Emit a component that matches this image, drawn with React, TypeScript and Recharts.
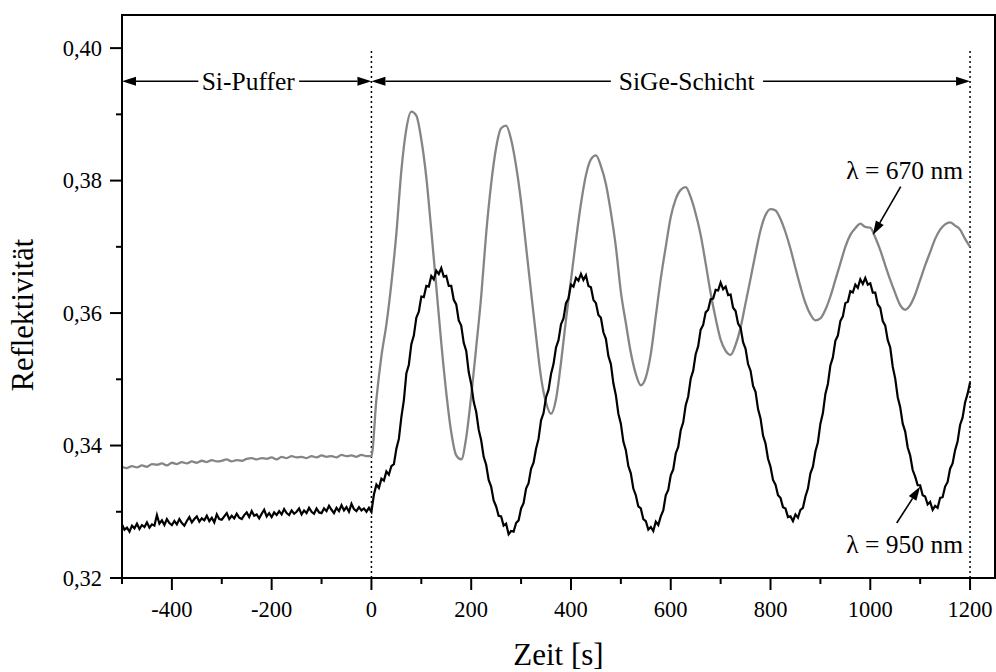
import React from "react";
import {
  LineChart,
  Line,
  XAxis,
  YAxis,
  ReferenceArea,
  ReferenceLine,
  ReferenceDot,
} from "recharts";

// sampling: buffer phase starts at -500 s, layer phase at 0 s
const bufferStart = -500;
const layerStart = 0;
const grayStep = 10;
const blackStep = 5;

// lambda = 670 nm (grey), every 10 s
const grayBuffer = [
  0.3368, 0.3366, 0.3369, 0.3367, 0.337, 0.3368, 0.3372, 0.3371, 0.3373, 0.337,
  0.3374, 0.3372, 0.3375, 0.3373, 0.3376, 0.3374, 0.3377, 0.3375, 0.3378, 0.3376,
  0.3377, 0.3379, 0.3376, 0.3378, 0.3377, 0.338, 0.3381, 0.3379, 0.3381, 0.338,
  0.3382, 0.3379, 0.3383, 0.3381, 0.3384, 0.3382, 0.3383, 0.3381, 0.3384, 0.3382,
  0.3385, 0.3383, 0.3384, 0.3382, 0.3386, 0.3384, 0.3385, 0.3383, 0.3386, 0.3384,
];
const grayLayer = [
  0.3384, 0.347, 0.3535, 0.3583, 0.3645, 0.372, 0.3815, 0.3878, 0.3904, 0.3898,
  0.3862, 0.3805, 0.3725, 0.364, 0.3555, 0.348, 0.342, 0.3385, 0.3379, 0.3412,
  0.3475, 0.3548, 0.3625, 0.372, 0.3795, 0.385, 0.3879, 0.3883, 0.3862, 0.3822,
  0.3768, 0.37, 0.3632, 0.3565, 0.3503, 0.3465, 0.3448, 0.347, 0.3525, 0.359,
  0.365, 0.371, 0.3765, 0.3808, 0.3832, 0.3838, 0.3822, 0.3795, 0.3752, 0.37,
  0.3632, 0.3585, 0.354, 0.3508, 0.3491, 0.3503, 0.3538, 0.3595, 0.3652, 0.37,
  0.3745, 0.3772, 0.3786, 0.379, 0.3775, 0.375, 0.3718, 0.3675, 0.363, 0.3592,
  0.356, 0.3543, 0.3537, 0.3552, 0.3578, 0.3615, 0.3652, 0.369, 0.3725, 0.3748,
  0.3757, 0.3755, 0.3742, 0.3722, 0.3697, 0.3668, 0.364, 0.3615, 0.3598, 0.3589,
  0.3592, 0.3605, 0.3625, 0.365, 0.3675, 0.37, 0.3718, 0.3728, 0.3735, 0.373,
  0.3729, 0.3714, 0.3695, 0.3672, 0.365, 0.363, 0.3612, 0.3605, 0.3612, 0.3628,
  0.365, 0.3672, 0.3692, 0.3712, 0.3726, 0.3734, 0.3737, 0.3732, 0.3726, 0.3712,
  0.37,
];

// lambda = 950 nm (black), every 5 s
const blackBuffer = [
  0.3281, 0.3273, 0.3276, 0.327, 0.3279, 0.3275, 0.3282, 0.3274, 0.328, 0.3277,
  0.3284, 0.3276, 0.3281, 0.3279, 0.3295, 0.3282, 0.3287, 0.328, 0.3289, 0.3283,
  0.328, 0.3286, 0.3281, 0.3289, 0.3283, 0.3279, 0.3286, 0.3292, 0.3284, 0.3289,
  0.3293, 0.3285, 0.329, 0.3287, 0.3294, 0.3286, 0.3291, 0.3284, 0.3296, 0.3289,
  0.3288, 0.3293, 0.3298, 0.3289, 0.3294, 0.329, 0.3297, 0.3291, 0.3289, 0.3295,
  0.3299, 0.3292, 0.3301, 0.3294, 0.3296, 0.329, 0.3297, 0.3303, 0.3293, 0.3298,
  0.3292, 0.3299, 0.3295, 0.3301, 0.3296, 0.3304, 0.3298, 0.3295, 0.3302, 0.3297,
  0.33, 0.3305, 0.3296, 0.3302, 0.3298, 0.3306, 0.33, 0.3297, 0.3305, 0.3299,
  0.3298, 0.3305, 0.3301, 0.3309, 0.3303, 0.3298, 0.3306, 0.3301, 0.331, 0.3302,
  0.3307, 0.33, 0.3312, 0.3304, 0.3301, 0.3307, 0.3302, 0.3305, 0.33, 0.3306,
];
const blackLayer = [
  0.33, 0.3326, 0.3341, 0.3336, 0.335, 0.3347, 0.3361, 0.3356, 0.3369, 0.3372,
  0.3395, 0.341, 0.3443, 0.3468, 0.3509, 0.3522, 0.3553, 0.3566, 0.3593, 0.3602,
  0.3625, 0.3624, 0.3641, 0.364, 0.3656, 0.3651, 0.3664, 0.3659, 0.3668, 0.3655,
  0.3656, 0.3641, 0.3641, 0.362, 0.3613, 0.3589, 0.3581, 0.3555, 0.3543, 0.3511,
  0.3493, 0.3466, 0.3451, 0.3424, 0.3408, 0.3383, 0.3371, 0.3348, 0.3338, 0.3317,
  0.3308, 0.3294, 0.3293, 0.3279, 0.3282, 0.3266, 0.3271, 0.327, 0.3283, 0.3287,
  0.3305, 0.3313, 0.3335, 0.3343, 0.3365, 0.3374, 0.3395, 0.341, 0.3438, 0.3449,
  0.3473, 0.3484, 0.3508, 0.3523, 0.3548, 0.3559, 0.3583, 0.3592, 0.3615, 0.3622,
  0.3643, 0.364, 0.3653, 0.3649, 0.3659, 0.365, 0.3657, 0.3641, 0.3639, 0.362,
  0.3615, 0.3597, 0.3593, 0.3571, 0.3561, 0.3535, 0.3523, 0.3494, 0.3476, 0.3448,
  0.3433, 0.3406, 0.3393, 0.3369, 0.3358, 0.3335, 0.3325, 0.3308, 0.3305, 0.3289,
  0.3286, 0.3273, 0.3277, 0.3271, 0.3285, 0.328, 0.3293, 0.3302, 0.3325, 0.3333,
  0.3355, 0.3364, 0.3388, 0.3398, 0.3423, 0.3435, 0.3461, 0.3474, 0.3501, 0.3513,
  0.3538, 0.355, 0.3575, 0.3582, 0.3601, 0.3605, 0.3621, 0.3622, 0.3635, 0.3634,
  0.3646, 0.3636, 0.364, 0.3627, 0.3628, 0.3608, 0.3603, 0.3584, 0.3578, 0.3556,
  0.3546, 0.3523, 0.3513, 0.349, 0.3481, 0.3455, 0.3441, 0.3415, 0.3403, 0.338,
  0.3368, 0.3348, 0.3341, 0.3325, 0.3321, 0.3307, 0.3305, 0.3292, 0.3293, 0.3286,
  0.3296, 0.3291, 0.3303, 0.3306, 0.3323, 0.3335, 0.3358, 0.3368, 0.3391, 0.3405,
  0.3433, 0.3449, 0.3478, 0.3493, 0.3521, 0.3533, 0.3558, 0.3566, 0.3588, 0.3595,
  0.3615, 0.3617, 0.3633, 0.3631, 0.3643, 0.3638, 0.3651, 0.3644, 0.3653, 0.3643,
  0.3645, 0.3631, 0.3631, 0.3613, 0.3608, 0.3588, 0.3581, 0.3559, 0.3548, 0.3519,
  0.3501, 0.3473, 0.3458, 0.3433, 0.3421, 0.3397, 0.3385, 0.3363, 0.3353, 0.334,
  0.334, 0.3325, 0.3323, 0.3311, 0.3315, 0.3303, 0.3309, 0.3306, 0.3321, 0.3322,
  0.3338, 0.3345, 0.3365, 0.3373, 0.3393, 0.3406, 0.3431, 0.3442, 0.3465, 0.3478,
  0.3495,
];

const xTicks = [
  -500, -400, -300, -200, -100, 0, 100, 200, 300, 400, 500, 600, 700, 800, 900,
  1000, 1100, 1200,
];
const yTicks = [0.32, 0.33, 0.34, 0.35, 0.36, 0.37, 0.38, 0.39, 0.4];

const toPoints = (start: number, step: number, vals: number[]) =>
  vals.map((r, i) => ({ t: start + i * step, r }));

const grayData = [
  ...toPoints(bufferStart, grayStep, grayBuffer),
  ...toPoints(layerStart, grayStep, grayLayer),
];
const blackData = [
  ...toPoints(bufferStart, blackStep, blackBuffer),
  ...toPoints(layerStart, blackStep, blackLayer),
];

const W = 996;
const H = 672;
const PLOT_LEFT = 122;
const PLOT_BOTTOM = 578;
const FONT = "'Liberation Serif', 'Times New Roman', serif";
const GREY = "#858585";
const txt = { fontFamily: FONT, fill: "#000" };

function YTick(props: any) {
  const { y, payload } = props;
  const major = Math.round(payload.value * 100) % 2 === 0;
  const len = major ? 12 : 6;
  return (
    <g>
      <line x1={PLOT_LEFT - len} x2={PLOT_LEFT} y1={y} y2={y} stroke="#000" strokeWidth={2} />
      {major && (
        <text x={PLOT_LEFT - 20} y={y} dy="0.35em" textAnchor="end" style={{ ...txt, fontSize: 22.5 }}>
          {payload.value.toFixed(2).replace(".", ",")}
        </text>
      )}
    </g>
  );
}

function XTick(props: any) {
  const { x, payload } = props;
  const major = payload.value % 200 === 0;
  const len = major ? 12 : 6;
  return (
    <g>
      <line x1={x} x2={x} y1={PLOT_BOTTOM} y2={PLOT_BOTTOM + len} stroke="#000" strokeWidth={2} />
      {major && (
        <text x={x} y={PLOT_BOTTOM + 31} dy="0.35em" textAnchor="middle" style={{ ...txt, fontSize: 22.5 }}>
          {payload.value}
        </text>
      )}
    </g>
  );
}

// straight arrow with a filled head at the second point
const arrow = (p: any) => {
  const { x1, y1, x2, y2 } = p;
  const L = 14;
  const w = 4.5;
  const dx = x2 - x1;
  const dy = y2 - y1;
  const len = Math.hypot(dx, dy) || 1;
  const ux = dx / len;
  const uy = dy / len;
  const bx = x2 - ux * L;
  const by = y2 - uy * L;
  return (
    <g>
      <line x1={x1} y1={y1} x2={bx} y2={by} stroke="#000" strokeWidth={1.6} />
      <polygon points={`${x2},${y2} ${bx - uy * w},${by + ux * w} ${bx + uy * w},${by - ux * w}`} fill="#000" />
    </g>
  );
};

const note = (text: string, anchor: "middle" | "end") => (p: any) => (
  <text x={p.viewBox.x} y={p.viewBox.y} dy="0.35em" textAnchor={anchor} style={{ ...txt, fontSize: 25.5 }}>
    {text}
  </text>
);

const arrowY = 0.395;

export default function App() {
  return (
    <div style={{ position: "absolute", left: 0, top: 0, width: W, height: H, background: "#fff", fontFamily: FONT }}>
      <LineChart width={W} height={H} margin={{ top: 15, right: 1, bottom: 0, left: 0 }}>
        <XAxis
          dataKey="t"
          type="number"
          domain={[-500, 1250]}
          ticks={xTicks}
          interval={0}
          allowDataOverflow
          height={94}
          axisLine={{ stroke: "#000", strokeWidth: 2 }}
          tickLine={false}
          tick={<XTick />}
          label={{
            content: (p: any) => (
              <text
                x={p.viewBox.x + p.viewBox.width / 2}
                y={p.viewBox.y + 87}
                textAnchor="middle"
                style={{ ...txt, fontSize: 31 }}
              >
                Zeit [s]
              </text>
            ),
          }}
        />
        <YAxis
          dataKey="r"
          type="number"
          domain={[0.32, 0.405]}
          ticks={yTicks}
          interval={0}
          allowDataOverflow
          width={122}
          axisLine={{ stroke: "#000", strokeWidth: 2 }}
          tickLine={false}
          tick={<YTick />}
          label={{
            content: () => (
              <text
                x={33}
                y={315}
                transform="rotate(-90 33 315)"
                textAnchor="middle"
                style={{ ...txt, fontSize: 30.5 }}
              >
                Reflektivität
              </text>
            ),
          }}
        />
        <ReferenceArea x1={-500} x2={1250} y1={0.32} y2={0.405} fill="none" stroke="#000" strokeWidth={2} />

        <ReferenceLine segment={[{ x: 0, y: 0.32 }, { x: 0, y: 0.4 }]} stroke="#000" strokeWidth={1.5} strokeDasharray="2 3" />
        <ReferenceLine segment={[{ x: 1200, y: 0.32 }, { x: 1200, y: 0.4 }]} stroke="#000" strokeWidth={1.5} strokeDasharray="2 3" />

        <Line data={grayData} dataKey="r" type="monotone" stroke={GREY} strokeWidth={2.3} dot={false} isAnimationActive={false} />
        <Line data={blackData} dataKey="r" type="linear" stroke="#000" strokeWidth={2.2} dot={false} isAnimationActive={false} />

        {/* Si-Puffer span */}
        <ReferenceLine segment={[{ x: -347, y: arrowY }, { x: -500, y: arrowY }]} shape={arrow} />
        <ReferenceLine segment={[{ x: -145, y: arrowY }, { x: 0, y: arrowY }]} shape={arrow} />
        <ReferenceDot x={-247} y={arrowY} r={0} label={{ content: note("Si-Puffer", "middle") }} />

        {/* SiGe-Schicht span */}
        <ReferenceLine segment={[{ x: 480, y: arrowY }, { x: 0, y: arrowY }]} shape={arrow} />
        <ReferenceLine segment={[{ x: 785, y: arrowY }, { x: 1200, y: arrowY }]} shape={arrow} />
        <ReferenceDot x={632} y={arrowY} r={0} label={{ content: note("SiGe-Schicht", "middle") }} />

        {/* wavelength labels */}
        <ReferenceLine segment={[{ x: 1061, y: 0.3791 }, { x: 1005, y: 0.3718 }]} shape={arrow} />
        <ReferenceDot x={1186} y={0.3816} r={0} label={{ content: note("λ = 670 nm", "end") }} />
        <ReferenceLine segment={[{ x: 1053, y: 0.3283 }, { x: 1100, y: 0.3338 }]} shape={arrow} />
        <ReferenceDot x={1186} y={0.3251} r={0} label={{ content: note("λ = 950 nm", "end") }} />
      </LineChart>
    </div>
  );
}
